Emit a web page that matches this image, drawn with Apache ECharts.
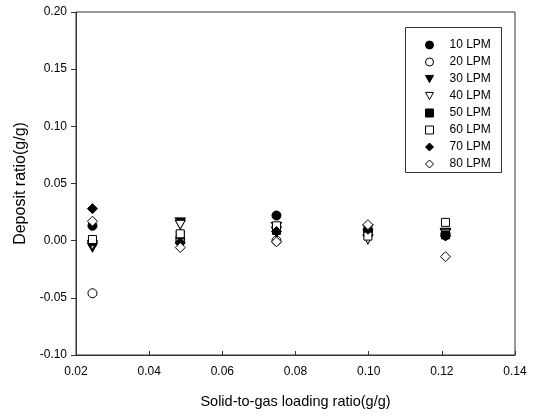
<!DOCTYPE html>
<html><head><meta charset="utf-8">
<script src="https://cdn.jsdelivr.net/npm/echarts@6/dist/echarts.min.js"></script>
<style>html,body{margin:0;padding:0;background:#fff}#c{width:533px;height:418px}</style>
</head><body><div id="c"></div>
<script>
const xValues = [0.0245, 0.0485, 0.0748, 0.0998, 0.121];
const seriesNames = ['10 LPM','20 LPM','30 LPM','40 LPM','50 LPM','60 LPM','70 LPM','80 LPM'];
const lpm10 = [0.013, -0.001, 0.022, 0.009, 0.005];
const lpm20 = [-0.046, 0.002, 0.000, 0.008, 0.006];
const lpm30 = [-0.006, 0.016, 0.012, 0.010, 0.007];
const lpm40 = [-0.004, 0.014, 0.008, 0.001, 0.006];
const lpm50 = [-0.001, 0.005, 0.009, 0.008, 0.005];
const lpm60 = [0.001, 0.006, 0.013, 0.004, 0.016];
const lpm70 = [0.028, -0.002, 0.008, 0.010, 0.004];
const lpm80 = [0.017, -0.006, -0.001, 0.014, -0.014];
const allValues = [lpm10, lpm20, lpm30, lpm40, lpm50, lpm60, lpm70, lpm80];

const TRI = 'path://M0,0 L10,0 L5,9 Z';
const DIA = 'path://M5,0 L10,5 L5,10 L0,5 Z';
const styles = [
  {symbol:'circle', fill:'#000', size:9},
  {symbol:'circle', fill:'#fff', size:9},
  {symbol:TRI, fill:'#000', size:[10,9]},
  {symbol:TRI, fill:'#fff', size:[10,9]},
  {symbol:'rect', fill:'#000', size:8},
  {symbol:'rect', fill:'#fff', size:8},
  {symbol:DIA, fill:'#000', size:10},
  {symbol:DIA, fill:'#fff', size:10}
];
const FONT = 'Liberation Sans, Arial, sans-serif';
const chart = echarts.init(document.getElementById('c'), null, {renderer:'canvas'});
chart.setOption({
  animation:false,
  backgroundColor:'#fff',
  grid:{left:76, right:18, top:12, bottom:63, show:true, borderColor:'#333', borderWidth:1},
  graphic:[{type:'rect', left:405, top:27, shape:{width:96, height:145},
    style:{fill:'#fff', stroke:'#333', lineWidth:1}, z:-1}],
  legend:{
    orient:'vertical', left:405, top:27,
    padding:[12,0,0,20],
    itemWidth:8, itemHeight:8, itemGap:5,
    textStyle:{fontFamily:FONT, fontSize:12, color:'#000', padding:[0,0,0,11]},
    data:seriesNames.map((n,i)=>({name:n, icon:styles[i].symbol,
      itemStyle:{color:styles[i].fill, borderColor:'#000', borderWidth:1}}))
  },
  xAxis:{
    type:'value', min:0.02, max:0.14, interval:0.02,
    name:'Solid-to-gas loading ratio(g/g)', nameLocation:'middle', nameGap:39,
    nameTextStyle:{fontFamily:FONT, fontSize:14.5, color:'#000'},
    axisLine:{onZero:false, lineStyle:{color:'#333'}},
    axisTick:{inside:true, length:4, lineStyle:{color:'#333'}},
    axisLabel:{fontFamily:FONT, fontSize:12, color:'#000', margin:11, formatter:v=>v.toFixed(2)},
    splitLine:{show:false}
  },
  yAxis:{
    type:'value', min:-0.10, max:0.20, interval:0.05,
    name:'Deposit ratio(g/g)', nameLocation:'middle', nameGap:46,
    nameTextStyle:{fontFamily:FONT, fontSize:16, color:'#000'},
    axisLine:{show:true, onZero:false, lineStyle:{color:'#333'}},
    axisTick:{show:true, inside:false, length:5, lineStyle:{color:'#333'}},
    axisLabel:{fontFamily:FONT, fontSize:12, color:'#000', margin:9, formatter:v=>v.toFixed(2)},
    splitLine:{show:false}
  },
  series:allValues.map((vals,i)=>({
    name:seriesNames[i], type:'scatter',
    symbol:styles[i].symbol, symbolSize:styles[i].size,
    itemStyle:{color:styles[i].fill, borderColor:'#000', borderWidth:1, opacity:1},
    data:vals.map((v,j)=>[xValues[j], v])
  }))
});
</script></body></html>
